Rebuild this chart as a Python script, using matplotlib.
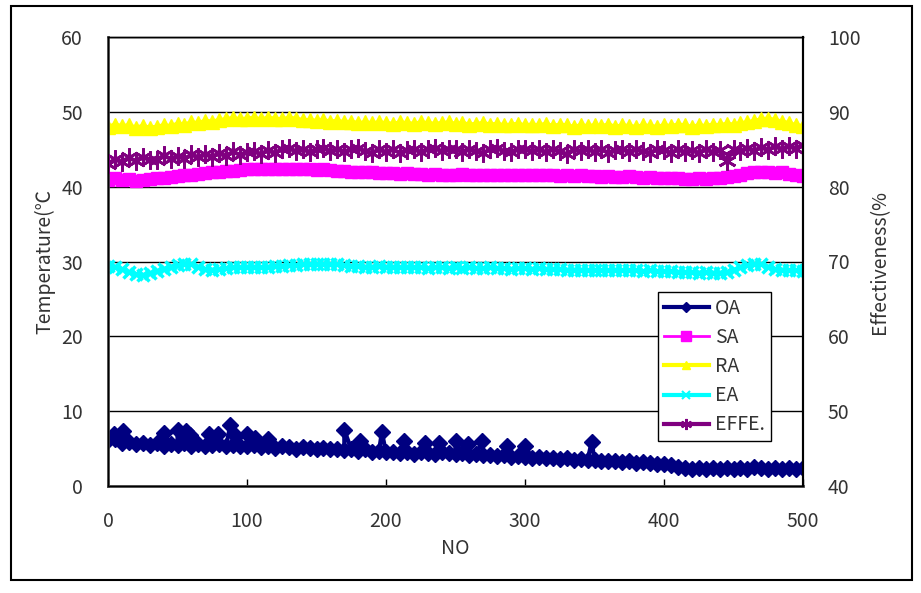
import numpy as np
import matplotlib
matplotlib.use("Agg")
import matplotlib.pyplot as plt
from matplotlib.lines import Line2D
from matplotlib.patches import Rectangle

plt.rcParams['font.family'] = ['Noto Sans CJK KR', 'DejaVu Sans']

# === Data (one value every 5 samples) ===
no = np.arange(0, 501, 5)

oa = [6.1, 6.3, 5.8, 5.9, 5.6, 5.8, 5.5, 5.7, 5.4, 5.6,
      5.5, 5.7, 5.4, 5.6, 5.3, 5.5, 5.6, 5.3, 5.5, 5.4,
      5.3, 5.5, 5.2, 5.4, 5.1, 5.3, 5.2, 5.0, 5.2, 5.1,
      5.0, 5.1, 4.9, 5.0, 4.8, 4.9, 4.7, 4.9, 4.6, 4.7,
      4.5, 4.6, 4.4, 4.6, 4.3, 4.5, 4.4, 4.3, 4.5, 4.4,
      4.3, 4.4, 4.2, 4.3, 4.1, 4.2, 4.0, 4.1, 3.9, 4.0,
      3.9, 3.8, 3.9, 3.7, 3.8, 3.6, 3.7, 3.5, 3.6, 3.5,
      3.5, 3.4, 3.3, 3.4, 3.2, 3.3, 3.1, 3.2, 3.1, 3.0,
      2.9, 2.8, 2.6, 2.4, 2.3, 2.4, 2.3, 2.4, 2.3, 2.4,
      2.3, 2.4, 2.3, 2.5, 2.4, 2.3, 2.4, 2.3, 2.4, 2.3,
      2.4]

# single-sample outliers in OA
oa_spike_no = [4, 11, 40, 50, 56, 59, 73, 79, 88, 92, 100, 106, 115, 170, 181,
               197, 213, 228, 238, 250, 259, 269, 287, 300, 348]
oa_spike_t = [7.0, 7.4, 7.1, 7.5, 7.4, 6.8, 6.9, 6.9, 8.2, 6.7, 7.0, 6.4, 6.3, 7.5, 6.0,
              7.2, 6.0, 5.7, 5.8, 6.0, 5.6, 6.0, 5.3, 5.4, 5.9]

sa = [40.9, 41.1, 40.9, 41.0, 40.8, 40.9, 41.0, 41.1, 41.2, 41.3,
      41.4, 41.5, 41.6, 41.7, 41.8, 41.9, 42.0, 42.1, 42.1, 42.2,
      42.3, 42.3, 42.4, 42.3, 42.4, 42.4, 42.3, 42.4, 42.3, 42.3,
      42.2, 42.3, 42.2, 42.1, 42.1, 42.0, 42.0, 41.9, 41.9, 41.8,
      41.8, 41.8, 41.7, 41.8, 41.7, 41.7, 41.6, 41.7, 41.6, 41.6,
      41.6, 41.7, 41.6, 41.6, 41.5, 41.6, 41.6, 41.5, 41.6, 41.5,
      41.6, 41.5, 41.5, 41.6, 41.5, 41.4, 41.5, 41.4, 41.5, 41.4,
      41.4, 41.3, 41.4, 41.3, 41.3, 41.4, 41.3, 41.2, 41.3, 41.2,
      41.2, 41.1, 41.1, 41.0, 41.0, 41.1, 41.0, 41.1, 41.2, 41.3,
      41.4, 41.6, 41.8, 41.9, 42.0, 41.9, 41.8, 41.9, 41.7, 41.5,
      41.4]

ra = [48.0, 48.3, 48.1, 48.2, 47.9, 48.1, 47.9, 48.0, 48.2, 48.1,
      48.4, 48.3, 48.6, 48.5, 48.8, 48.7, 48.9, 49.0, 49.2, 49.0,
      49.1, 49.2, 49.0, 49.2, 49.1, 49.0, 49.2, 49.1, 48.9, 48.9,
      48.8, 48.9, 48.7, 48.8, 48.6, 48.7, 48.5, 48.6, 48.5, 48.6,
      48.5, 48.4, 48.6, 48.5, 48.4, 48.6, 48.5, 48.4, 48.5, 48.6,
      48.4, 48.5, 48.3, 48.4, 48.5, 48.3, 48.4, 48.2, 48.3, 48.4,
      48.2, 48.3, 48.2, 48.4, 48.1, 48.3, 48.2, 48.0, 48.2, 48.1,
      48.2, 48.1, 48.3, 48.0, 48.2, 48.1, 48.0, 48.2, 48.1, 48.0,
      48.2, 48.1, 48.3, 48.2, 48.0, 48.2, 48.1, 48.3, 48.2, 48.4,
      48.3, 48.5, 48.6, 48.8, 49.0, 49.1, 48.9, 48.7, 48.5, 48.2,
      48.1]

ea = [29.4, 29.3, 29.0, 28.6, 28.3, 28.2, 28.4, 28.7, 29.0, 29.3,
      29.5, 29.7, 29.6, 29.3, 29.0, 28.9, 29.0, 29.1, 29.2, 29.2,
      29.3, 29.3, 29.2, 29.3, 29.4, 29.4, 29.5, 29.5, 29.6, 29.6,
      29.7, 29.7, 29.6, 29.6, 29.5, 29.4, 29.4, 29.3, 29.3, 29.4,
      29.3, 29.3, 29.2, 29.3, 29.2, 29.2, 29.1, 29.2, 29.2, 29.1,
      29.2, 29.1, 29.2, 29.1, 29.1, 29.2, 29.1, 29.1, 29.0, 29.1,
      29.1, 29.0, 29.1, 29.0, 29.0, 29.0, 28.9, 28.9, 28.9, 28.8,
      28.9, 28.8, 28.8, 28.9, 28.8, 28.8, 28.8, 28.7, 28.8, 28.7,
      28.7, 28.7, 28.6, 28.6, 28.6, 28.5, 28.6, 28.5, 28.5, 28.6,
      28.9, 29.2, 29.5, 29.7, 29.6, 29.3, 29.0, 28.9, 28.8, 28.8,
      28.7]

effe = [83.0, 83.7, 83.3, 83.9, 83.4, 84.0, 83.6, 83.5, 84.2, 83.7,
        84.1, 83.7, 84.3, 83.9, 84.4, 84.0, 84.5, 84.1, 84.7, 84.2,
        84.6, 84.8, 84.3, 84.9, 84.5, 85.0, 85.2, 84.7, 85.1, 84.6,
        85.0, 85.2, 84.7, 85.1, 84.6, 85.0, 85.2, 84.7, 84.5, 85.0,
        84.6, 85.0, 84.5, 84.9, 85.1, 84.6, 85.0, 85.2, 84.7, 85.1,
        85.0, 84.6, 85.1, 84.7, 84.5, 85.0, 85.2, 84.7, 84.6, 85.0,
        85.1, 84.7, 85.0, 84.6, 85.1, 84.7, 84.3, 85.0, 84.7, 85.1,
        84.6, 85.0, 84.5, 84.9, 85.1, 84.6, 85.0, 84.7, 84.5, 85.0,
        84.9, 84.5, 85.0, 84.6, 84.9, 84.5, 85.0, 84.6, 84.9, 83.4,
        85.0, 84.7, 85.2, 84.8, 85.3, 84.9, 85.4, 85.0, 85.5, 85.1,
        85.6]

# merge OA base samples with the spikes
oa_no = np.concatenate([no, oa_spike_no])
oa_t = np.concatenate([oa, oa_spike_t])
order = np.argsort(oa_no, kind="stable")
oa_no, oa_t = oa_no[order], oa_t[order]

# === Figure ===
W, H = 921, 593
fig = plt.figure(figsize=(W / 100, H / 100), dpi=100)
ax = fig.add_axes([108 / W, 1 - 486 / H, (803 - 108) / W, (486 - 37) / H])
ax2 = ax.twinx()

# outer chart border
fig.patches.append(Rectangle((10.5 / W, 1 - 580 / H), (912 - 10.5) / W, (580 - 5.5) / H,
                             transform=fig.transFigure, fill=False, lw=1.5, ec="black"))

h_oa, = ax.plot(oa_no, oa_t, color="#000080", marker="D", ms=8, lw=3, label="OA")
h_sa, = ax.plot(no, sa, color="#FF00FF", marker="s", ms=8, lw=3, label="SA")
h_ra, = ax.plot(no, ra, color="#FFFF00", marker="^", ms=10, lw=3, label="RA")
h_ea, = ax.plot(no, ea, color="#00FFFF", marker="x", ms=8, mew=2.5, lw=3, label="EA")
h_ef, = ax2.plot(no, effe, color="#800080", marker=(6, 2, 0), ms=13, mew=2, lw=3, label="EFFE.")

ax.set_xlim(0, 500)
ax.set_ylim(0, 60)
ax2.set_ylim(40, 100)
ax.set_xticks(range(0, 501, 100))
ax.set_yticks(range(0, 61, 10))
ax2.set_yticks(range(40, 101, 10))

ax.grid(axis="y", color="black", lw=1)
ax.set_axisbelow(True)

txt = "#333333"
ax.tick_params(axis="y", length=0, pad=18, labelsize=14, labelcolor=txt)
ax2.tick_params(axis="y", length=0, pad=18, labelsize=14, labelcolor=txt)
ax.tick_params(axis="x", direction="in", length=5, width=1, pad=18, labelsize=14, labelcolor=txt)

for sp in ("left", "bottom"):
    ax.spines[sp].set_linewidth(2)
    ax.spines[sp].set_color("#444444")
for a in (ax, ax2):
    a.spines["top"].set_linewidth(1)
    a.spines["right"].set_linewidth(1.5)

ax.set_xlabel("NO", fontsize=14, color=txt, labelpad=4)
ax.set_ylabel("Temperature(\u2103", fontsize=14, color=txt, labelpad=4)
ax2.set_ylabel("Effectiveness(%", fontsize=14, color=txt, labelpad=6)

# legend handles: thick line, small marker like the original
lh = [Line2D([], [], color="#000080", marker="D", ms=5, lw=3),
      Line2D([], [], color="#FF00FF", marker="s", ms=7, lw=2),
      Line2D([], [], color="#FFFF00", marker="^", ms=6, lw=3),
      Line2D([], [], color="#00FFFF", marker="x", ms=6, mew=1.5, lw=3),
      Line2D([], [], color="#800080", marker=(6, 2, 0), ms=8, mew=1.5, lw=3)]
leg = ax2.legend(lh, ["OA", "SA", "RA", "EA", "EFFE."],
                 loc="upper left", bbox_to_anchor=(658 / W, 1 - 292 / H),
                 bbox_transform=fig.transFigure, fontsize=14, frameon=True,
                 fancybox=False, edgecolor="black", framealpha=1,
                 handlelength=2.3, handletextpad=0.35, labelspacing=0.42,
                 borderpad=0.3, borderaxespad=0)
leg.get_frame().set_linewidth(1)
for t in leg.get_texts():
    t.set_color(txt)

fig.savefig("out.png", dpi=100)
